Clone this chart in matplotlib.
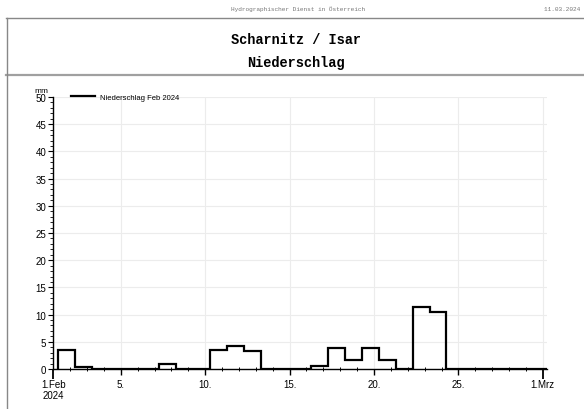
import matplotlib
matplotlib.use("Agg")
import matplotlib.pyplot as plt
import numpy as np
from matplotlib.lines import Line2D

# daily precipitation Feb 2024 (mm), day 1..29
days = np.arange(1, 30)
precip = [3.5, 0.3, 0, 0, 0, 0, 1.0, 0, 0, 3.5, 4.2, 3.3, 0, 0, 0,
          0.5, 3.9, 1.6, 3.9, 1.6, 0, 11.4, 10.5, 0, 0, 0, 0, 0, 0]
day_offset = 7 / 24  # 07:00 to 07:00

xtick_pos = [0, 4, 9, 14, 19, 24, 29]
xtick_labels = ["1.Feb\n2024", "5.", "10.", "15.", "20.", "25.", "1.Mrz"]

W, H = 584, 410
fig = plt.figure(figsize=(W / 100, H / 100), dpi=100)
ax = fig.add_axes([53.3 / W, (H - 370) / H, (547 - 53.3) / W, (370 - 98) / H])

edges = np.append(days - 1, days[-1]) + day_offset
ax.stairs(precip, edges, color="black", linewidth=1.6, label="Niederschlag Feb 2024")

ax.set_xlim(0, 29.25)
ax.set_ylim(0, 50)

ax.set_yticks(np.arange(0, 51, 5))
ax.set_yticks(np.arange(0, 51, 1), minor=True)
ax.set_xticks(xtick_pos, xtick_labels)
ax.set_xticks(np.arange(0, 30), minor=True)

ax.grid(True, which="major", color="#ececec", linewidth=0.8)
ax.set_axisbelow(True)

for s in ["top", "right"]:
    ax.spines[s].set_visible(False)
ax.spines["left"].set_linewidth(1.0)
ax.spines["bottom"].set_linewidth(1.0)

ax.tick_params(axis="y", which="major", direction="out", length=3.5, width=0.8,
               labelsize=7, pad=1.5)
ax.tick_params(axis="y", which="minor", direction="out", length=2, width=0.6)
ax.tick_params(axis="x", which="major", direction="out", length=4, width=1.0,
               labelsize=7, pad=3)
ax.tick_params(axis="x", which="minor", direction="inout", length=3, width=0.7)

for lbl in ax.get_xticklabels() + ax.get_yticklabels():
    lbl.set_fontfamily(["Liberation Sans", "DejaVu Sans"])

# month ticks are longer
mt = ax.xaxis.get_major_ticks()
mt[0].tick1line.set_markersize(7)
mt[-1].tick1line.set_markersize(7)
mt[0].tick1line.set_markeredgewidth(1.3)
mt[-1].tick1line.set_markeredgewidth(1.3)

ax.text(-0.025, 1.012, "mm", transform=ax.transAxes, ha="center", va="bottom",
        fontsize=6, family="Liberation Sans")

ax.legend(loc="center left", bbox_to_anchor=(0.035, 1.0), frameon=False,
          fontsize=5.5, handlelength=3.2, handletextpad=0.7, borderpad=0,
          borderaxespad=0, prop={"family": "Liberation Sans", "size": 5.5})

# header frame
fig.add_artist(Line2D([6 / W, 1], [1 - 19 / H, 1 - 19 / H], color="#888888", lw=1.0))
fig.add_artist(Line2D([6 / W, 1], [1 - 76 / H, 1 - 76 / H], color="#a0a0a0", lw=1.6))
fig.add_artist(Line2D([6.5 / W, 6.5 / W], [0, 1 - 19 / H], color="#888888", lw=1.0))

fig.text(298 / W, 1 - 9.5 / H, "Hydrographischer Dienst in Österreich", ha="center",
         va="center", fontsize=4.4, family="Liberation Mono", color="#777777")
fig.text(544 / W, 1 - 9.5 / H, "11.03.2024 07:25", ha="left", va="center",
         fontsize=4.4, family="Liberation Mono", color="#777777")
fig.text(296 / W, 1 - 40 / H, "Scharnitz / Isar", ha="center", va="center",
         fontsize=9.8, family="Liberation Mono", weight="bold")
fig.text(296 / W, 1 - 63 / H, "Niederschlag", ha="center", va="center",
         fontsize=9.8, family="Liberation Mono", weight="bold")

fig.savefig("out.png", dpi=100)
